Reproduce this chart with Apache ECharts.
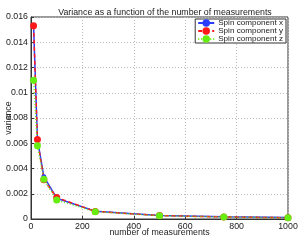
<!DOCTYPE html>
<html><head><meta charset="utf-8">
<script src="https://cdn.jsdelivr.net/npm/echarts@6/dist/echarts.min.js"></script>
<style>html,body{margin:0;padding:0;background:#fff}#c{width:300px;height:240px}</style>
</head><body><div id="c"></div>
<script>
var xs = [10, 25, 50, 100, 250, 500, 750, 1000];
var spinX = [0.0153, 0.0063, 0.00335, 0.00165, 0.00062, 0.00028, 0.00017, 0.00011];
var spinY = [0.0153, 0.0063, 0.0031, 0.0017, 0.00060, 0.00027, 0.00016, 0.00010];
var spinZ = [0.0110, 0.0058, 0.00315, 0.0015, 0.00058, 0.00026, 0.00016, 0.00010];
var seriesNames = ['Spin component x', 'Spin component y', 'Spin component z'];
var yTicks = ['0', '0.002', '0.004', '0.006', '0.008', '0.01', '0.012', '0.014', '0.016'];
var xTicks = ['0', '200', '400', '600', '800', '1000'];
function pairs(v){ return xs.map(function(x,i){ return [x, v[i]]; }); }
var font = 'Liberation Sans, Arial, sans-serif';
var chart = echarts.init(document.getElementById('c'), null, {renderer:'canvas'});
chart.setOption({
  animation:false,
  backgroundColor:'#fff',
  title:{text:'Variance as a function of the number of measurements', left:160, textAlign:'center', top:3,
    textStyle:{fontSize:8.8, fontWeight:'normal', color:'#222', fontFamily:font}},
  grid:{left:31, right:12, top:17, bottom:21, show:true, borderColor:'#333', borderWidth:1, outerBoundsMode:'none', containLabel:false},
  legend:{orient:'vertical', right:14, top:19, data:seriesNames, backgroundColor:'#fff',
    borderColor:'#333', borderWidth:1, padding:[0,3,0,2], itemGap:0, itemWidth:16, itemHeight:9.3,
    textStyle:{fontSize:8.1, color:'#222', fontFamily:font, padding:[0,0,0,-1]}},
  xAxis:{type:'value', min:0, max:1000, interval:200, name:'number of measurements', nameLocation:'middle', nameGap:9, nameMoveOverlap:false,
    nameTextStyle:{fontSize:8.8, color:'#222', fontFamily:font},
    axisLine:{lineStyle:{color:'#333'}}, axisTick:{inside:true, length:3, lineStyle:{color:'#333'}},
    axisLabel:{fontSize:8.8, color:'#222', fontFamily:font, margin:3, formatter:function(v){ return xTicks[Math.round(v/200)]; }},
    splitLine:{show:true, lineStyle:{color:'#bbb', type:[1,2], width:1}}},
  yAxis:{type:'value', min:0, max:0.016, interval:0.002, name:'variance', nameLocation:'middle', nameGap:18, nameMoveOverlap:false,
    nameTextStyle:{fontSize:8.8, color:'#222', fontFamily:font},
    axisLine:{show:true, lineStyle:{color:'#333'}}, axisTick:{show:true, inside:true, length:3, lineStyle:{color:'#333'}},
    axisLabel:{fontSize:8.8, color:'#222', fontFamily:font, margin:3, formatter:function(v){ return yTicks[Math.round(v/0.002)]; }},
    splitLine:{show:true, lineStyle:{color:'#bbb', type:[1,2], width:1}}},
  series:[
    {name:seriesNames[0], type:'line', data:pairs(spinX), color:'#2a3cff', symbol:'circle', symbolSize:5, showAllSymbol:true,
      lineStyle:{width:1.5, color:'#2a3cff'}, itemStyle:{color:'#2a3cff'}},
    {name:seriesNames[1], type:'line', data:pairs(spinY), color:'#ff1a1a', symbol:'circle', symbolSize:7, showAllSymbol:true,
      lineStyle:{width:1.5, type:[4,3], color:'#ff1a1a'}, itemStyle:{color:'#ff1a1a'}},
    {name:seriesNames[2], type:'line', data:pairs(spinZ), color:'#66ee11', symbol:'circle', symbolSize:7, showAllSymbol:true,
      lineStyle:{width:1.5, type:[1,2], color:'#66ee11'}, itemStyle:{color:'#66ee11'}}
  ]
});
</script></body></html>
